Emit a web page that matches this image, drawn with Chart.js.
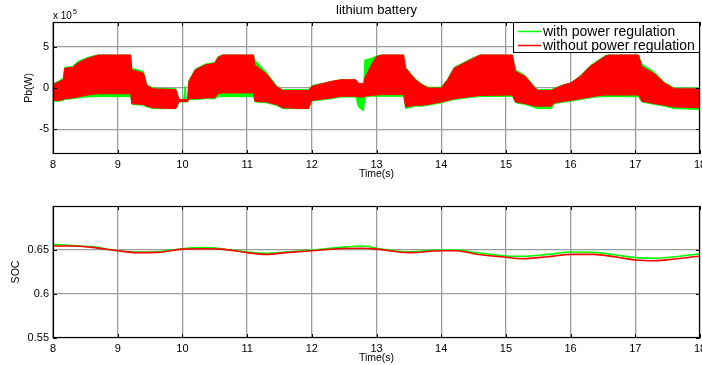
<!DOCTYPE html>
<html>
<head>
<meta charset="utf-8">
<script src="https://cdn.jsdelivr.net/npm/chart.js@4.4.0/dist/chart.umd.min.js"></script>
<style>
  html, body { margin: 0; padding: 0; background: #fff; }
  #wrap { position: relative; width: 702px; height: 365px; overflow: hidden; }
  canvas { position: absolute; left: 0; }
  #pb { top: 0; }
  #soc { top: 184px; }
</style>
</head>
<body>
<div id="wrap">
  <canvas id="pb" width="702" height="182"></canvas>
  <canvas id="soc" width="702" height="181"></canvas>
</div>
<script>
// ---- data -------------------------------------------------------------
const seriesNames = ['with power regulation', 'without power regulation'];
const timeTicks = [8, 9, 10, 11, 12, 13, 14, 15, 16, 17, 18];
const pbTicks = [-5, 0, 5];            // battery power, x 10^5 W
const socTicks = [0.55, 0.6, 0.65];

// Battery power envelope (upper / lower extent of the switching ripple), x 10^5 W
const pbTime = [8.00, 8.10, 8.16, 8.18, 8.30, 8.38, 8.50, 8.62, 8.70, 9.20,
                9.22, 9.40, 9.45, 9.55, 9.90, 9.95, 10.02, 10.04, 10.06, 10.08,
                10.10, 10.20, 10.35, 10.50, 10.55, 10.62, 11.10, 11.12, 11.30, 11.45,
                11.55, 11.95, 12.00, 12.30, 12.45, 12.68, 12.72, 12.80, 12.82, 12.92,
                13.00, 13.08, 13.42, 13.45, 13.60, 13.70, 13.80, 14.00, 14.10, 14.20,
                14.40, 14.50, 14.60, 15.10, 15.15, 15.30, 15.45, 15.50, 15.70, 15.75,
                15.90, 16.00, 16.15, 16.30, 16.45, 16.55, 16.60, 17.05, 17.10, 17.30,
                17.45, 17.60, 18.00];

const pbWithUpper = [0.5, 0.9, 1.2, 2.5, 2.6, 3.2, 3.6, 3.9, 4.0, 4.0,
                     2.4, 2.0, 0.4, 0.0, -0.1, -1.4, -1.4, 0.2, -1.4, -1.4,
                     0.9, 2.3, 2.9, 3.1, 3.8, 4.0, 4.0, 3.4, 1.9, 0.3,
                     -0.2, -0.2, 0.3, 0.8, 1.0, 1.0, 0.5, 0.0, 3.4, 3.6,
                     3.9, 4.0, 4.0, 2.5, 1.1, 0.5, 0.1, 0.1, 1.1, 2.5,
                     3.3, 3.7, 4.0, 4.0, 2.2, 1.5, 0.1, -0.2, -0.2, 0.0,
                     0.4, 0.6, 1.5, 2.7, 3.5, 4.0, 4.0, 4.0, 2.9, 1.9,
                     0.7, 0.0, 0.0];
const pbWithLower = [-1.6, -1.6, -1.5, -1.4, -1.3, -1.2, -1.1, -1.05, -1.05, -1.05,
                     -2.0, -2.1, -2.3, -2.5, -2.5, -1.7, -1.7, -1.7, -1.7, -1.7,
                     -1.4, -1.4, -1.3, -1.3, -1.05, -1.05, -1.05, -1.7, -1.8, -2.1,
                     -2.5, -2.5, -1.6, -1.3, -1.1, -1.1, -2.3, -2.8, -1.1, -1.0,
                     -1.0, -1.0, -1.0, -2.5, -2.2, -2.2, -2.1, -1.8, -1.6, -1.4,
                     -1.2, -1.1, -1.05, -1.0, -1.8, -2.0, -2.4, -2.5, -2.5, -1.9,
                     -1.7, -1.6, -1.4, -1.2, -1.05, -1.05, -1.05, -1.05, -1.7, -2.0,
                     -2.2, -2.5, -2.6];
const pbWithoutUpper = [0.4, 0.8, 1.0, 2.4, 2.5, 3.0, 3.5, 3.8, 4.0, 4.0,
                        2.2, 1.8, 0.3, -0.1, -0.2, -1.4, -1.4, -1.4, -1.4, -1.4,
                        0.8, 2.2, 2.8, 3.0, 3.7, 4.0, 4.0, 2.8, 1.7, 0.2,
                        -0.3, -0.3, 0.2, 0.8, 1.0, 1.0, 0.6, 0.5, 1.2, 2.8,
                        3.8, 4.0, 4.0, 2.4, 1.0, 0.4, 0.0, 0.0, 1.0, 2.4,
                        3.2, 3.6, 4.0, 4.0, 2.0, 1.4, 0.0, -0.3, -0.3, -0.1,
                        0.4, 0.6, 1.4, 2.6, 3.4, 3.9, 4.0, 4.0, 2.6, 1.7,
                        0.6, -0.1, -0.1];
const pbWithoutLower = [-1.5, -1.5, -1.4, -1.3, -1.2, -1.1, -0.9, -0.75, -0.7, -0.7,
                        -1.9, -2.0, -2.2, -2.4, -2.5, -1.65, -1.65, -1.65, -1.65, -1.65,
                        -1.3, -1.3, -1.2, -1.2, -0.7, -0.6, -0.6, -1.6, -1.7, -2.0,
                        -2.4, -2.5, -1.5, -1.2, -1.0, -1.0, -1.1, -1.1, -1.0, -0.9,
                        -0.85, -0.8, -0.8, -2.3, -2.1, -2.1, -2.0, -1.7, -1.5, -1.3,
                        -1.1, -1.0, -0.9, -0.85, -1.7, -1.9, -2.2, -2.2, -2.2, -1.8,
                        -1.6, -1.5, -1.3, -1.1, -0.9, -0.85, -0.85, -0.85, -1.6, -1.9,
                        -2.1, -2.3, -2.4];

// State of charge
const socTime = [8, 8.3, 8.6, 9, 9.3, 9.6, 10, 10.3, 10.6, 11,
                 11.3, 11.6, 12, 12.4, 12.8, 13, 13.5, 14, 14.25, 14.5,
                 15, 15.25, 15.65, 16, 16.35, 16.7, 17, 17.3, 17.6, 18];
const socWith = [0.6565, 0.6550, 0.6538, 0.6492, 0.6477, 0.6480, 0.6515, 0.6527, 0.6515, 0.6477,
                 0.6462, 0.6477, 0.6500, 0.6527, 0.6545, 0.6520, 0.6480, 0.6500, 0.6500, 0.6473,
                 0.6432, 0.6428, 0.6450, 0.6477, 0.6473, 0.6443, 0.6413, 0.6405, 0.6424, 0.6458];
const socWithout = [0.6545, 0.6545, 0.6530, 0.6492, 0.6470, 0.6473, 0.6510, 0.6515, 0.6510, 0.6470,
                    0.6450, 0.6470, 0.6492, 0.6515, 0.6520, 0.6510, 0.6470, 0.6492, 0.6492, 0.6458,
                    0.6417, 0.6401, 0.6424, 0.6450, 0.6450, 0.6420, 0.6386, 0.6378, 0.6398, 0.6432];

// ---- styling ----------------------------------------------------------
const FONT = "'Liberation Sans', Arial, Helvetica, sans-serif";
const GREEN = '#00ff00';
const RED = '#ff0000';
const GRID = '#9c9c9c';
const colors = [GREEN, RED];

const pairs = (xs, ys) => xs.map((x, i) => ({ x, y: ys[i] }));

function xAxis(height, titlePad) {
  return {
    type: 'linear', min: 8, max: 18,
    afterBuildTicks: s => { s.ticks = timeTicks.map(v => ({ value: v })); },
    afterFit: s => { s.height = height; s.paddingLeft = 0; s.paddingRight = 0; },
    grid: { color: GRID, lineWidth: 1.3, drawTicks: false },
    border: { display: false },
    ticks: { padding: 4, color: '#000', autoSkip: false, maxRotation: 0,
             font: { family: FONT, size: 11 }, callback: v => String(v) },
    title: { display: true, text: 'Time(s)', color: '#000',
             font: { family: FONT, size: 10.5 }, padding: { top: 0, bottom: titlePad } }
  };
}

function yAxis(min, max, tickVals, title, titlePad) {
  return {
    type: 'linear', min, max,
    afterBuildTicks: s => { s.ticks = tickVals.map(v => ({ value: v })); },
    afterFit: s => { s.width = 53; s.paddingTop = 0; s.paddingBottom = 0; },
    grid: { color: GRID, lineWidth: 1.3, drawTicks: false },
    border: { display: false },
    ticks: { padding: 4, color: '#000', font: { family: FONT, size: 11 }, callback: v => String(v) },
    title: { display: true, text: title, color: '#000',
             font: { family: FONT, size: 10.5 }, padding: { top: titlePad, bottom: 0 } }
  };
}

// axes box with short inward tick marks on all four sides
const frame = {
  id: 'frame',
  afterDatasetsDraw(chart) {
    const { ctx, chartArea: a, scales: { x, y } } = chart;
    ctx.save();
    ctx.strokeStyle = '#000';
    ctx.lineWidth = 1;
    ctx.beginPath();
    x.ticks.forEach(t => {
      const px = Math.round(x.getPixelForValue(t.value)) + 0.5;
      ctx.moveTo(px, a.top); ctx.lineTo(px, a.top + 4);
      ctx.moveTo(px, a.bottom); ctx.lineTo(px, a.bottom - 4);
    });
    y.ticks.forEach(t => {
      const py = Math.round(y.getPixelForValue(t.value)) + 0.5;
      ctx.moveTo(a.left, py); ctx.lineTo(a.left + 4, py);
      ctx.moveTo(a.right, py); ctx.lineTo(a.right - 4, py);
    });
    ctx.stroke();
    ctx.lineWidth = 1.2;
    ctx.strokeRect(a.left + 0.5, a.top + 0.5, a.right - a.left - 1, a.bottom - a.top - 1);
    ctx.restore();
  }
};

// title, exponent label and boxed legend of the power plot
const pbDecor = {
  id: 'pbDecor',
  afterDraw(chart) {
    const { ctx, chartArea: a } = chart;
    ctx.save();
    ctx.fillStyle = '#000';
    ctx.textBaseline = 'middle';
    ctx.textAlign = 'center';
    ctx.font = `13px ${FONT}`;
    ctx.fillText('lithium battery', (a.left + a.right) / 2, 10);

    ctx.textAlign = 'left';
    ctx.textBaseline = 'alphabetic';
    ctx.font = `10px ${FONT}`;
    ctx.fillText('x 10', a.left, 19);
    const w = ctx.measureText('x 10').width;
    ctx.font = `7px ${FONT}`;
    ctx.fillText('5', a.left + w + 1, 14);

    const bw = 187, bh = 31;
    const L = a.right - bw, T = a.top;
    ctx.fillStyle = '#fff';
    ctx.fillRect(L, T, bw, bh);
    ctx.strokeStyle = '#000';
    ctx.lineWidth = 1;
    ctx.strokeRect(L + 0.5, T + 0.5, bw - 1, bh - 1);
    ctx.font = `14px ${FONT}`;
    ctx.textBaseline = 'middle';
    seriesNames.forEach((name, i) => {
      const yy = T + 9.5 + i * 14;
      ctx.strokeStyle = colors[i];
      ctx.lineWidth = 1.5;
      ctx.beginPath();
      ctx.moveTo(L + 5, yy); ctx.lineTo(L + 28, yy);
      ctx.stroke();
      ctx.fillStyle = '#000';
      ctx.fillText(name, L + 30, yy + 0.5);
    });
    ctx.restore();
  }
};

const band = (data, color, fill) => ({
  data, fill, borderColor: color, backgroundColor: color, borderWidth: 1,
  pointRadius: 0, tension: 0
});

// ---- battery power ----------------------------------------------------
new Chart(document.getElementById('pb'), {
  type: 'line',
  data: {
    datasets: [
      // first datasets are drawn last, so the unregulated band sits on top
      band(pairs(pbTime, pbWithoutUpper), RED, '+1'),
      band(pairs(pbTime, pbWithoutLower), RED, false),
      band(pairs(pbTime, pbWithUpper), GREEN, '+1'),
      band(pairs(pbTime, pbWithLower), GREEN, false)
    ]
  },
  options: {
    responsive: false, animation: false, parsing: false,
    layout: { padding: { top: 22, right: 2, bottom: 0, left: 0 }, autoPadding: false },
    plugins: { legend: { display: false }, tooltip: { enabled: false } },
    scales: { x: xAxis(28, 2), y: yAxis(-8, 8, pbTicks, 'Pb(W)', 23) }
  },
  plugins: [frame, pbDecor]
});

// ---- state of charge --------------------------------------------------
new Chart(document.getElementById('soc'), {
  type: 'line',
  data: {
    datasets: [
      { label: seriesNames[1], data: pairs(socTime, socWithout), borderColor: RED,
        borderWidth: 1.6, pointRadius: 0, cubicInterpolationMode: 'monotone', fill: false },
      { label: seriesNames[0], data: pairs(socTime, socWith), borderColor: GREEN,
        borderWidth: 1.6, pointRadius: 0, cubicInterpolationMode: 'monotone', fill: false }
    ]
  },
  options: {
    responsive: false, animation: false, parsing: false,
    layout: { padding: { top: 22, right: 2, bottom: 0, left: 0 }, autoPadding: false },
    plugins: { legend: { display: false }, tooltip: { enabled: false } },
    scales: { x: xAxis(27, 1), y: yAxis(0.55, 0.70, socTicks, 'SOC', 10) }
  },
  plugins: [frame]
});
</script>
</body>
</html>
